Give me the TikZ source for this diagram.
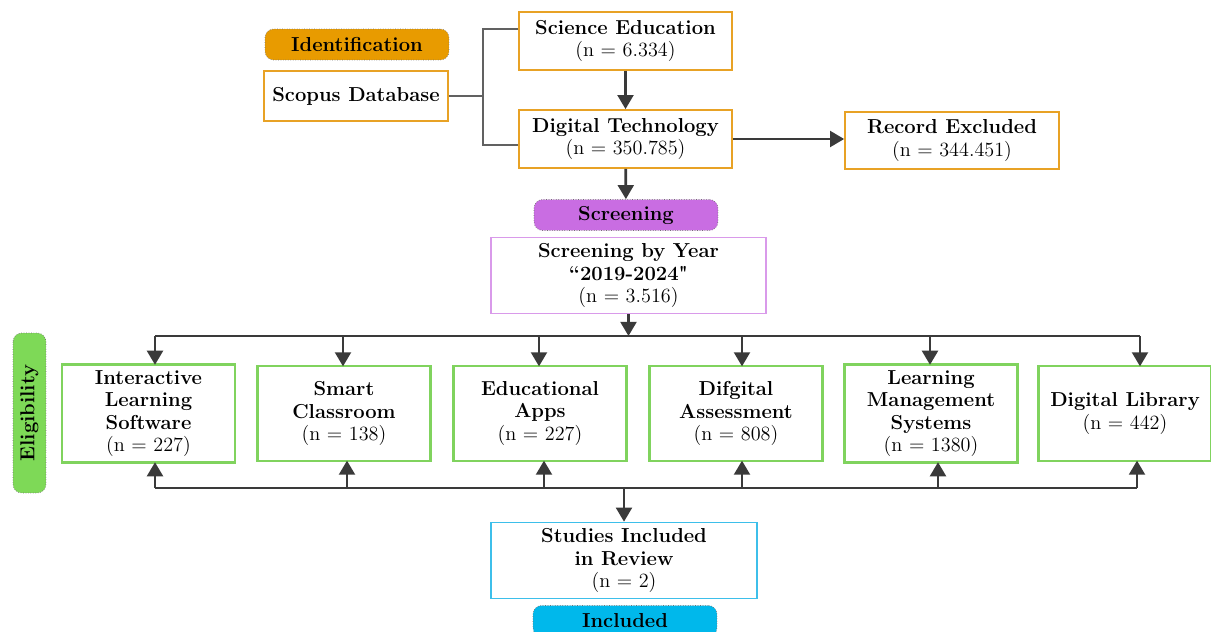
\documentclass[tikz,border=0pt]{standalone}
\usetikzlibrary{arrows.meta}
\definecolor{idorange}{HTML}{E89B00}
\definecolor{boxorange}{HTML}{E8A225}
\definecolor{scrviolet}{HTML}{C96DE2}
\definecolor{boxviolet}{HTML}{D99AEA}
\definecolor{eligreen}{HTML}{7ED957}
\definecolor{boxgreen}{HTML}{80D35E}
\definecolor{inccyan}{HTML}{00B8EB}
\definecolor{boxcyan}{HTML}{3DBFEA}
\definecolor{linegray}{HTML}{3A3A3A}
\begin{document}
\begin{tikzpicture}
[x=0.02cm,y=-0.02cm,
font=\fontsize{11.5}{12.8}\selectfont,
stage/.style={rectangle,rounded corners=5pt,draw=black!55,densely dotted,minimum width=3.68cm,minimum height=0.62cm,font=\fontsize{11.5}{12.8}\selectfont\bfseries},
orangebox/.style={rectangle,draw=boxorange,line width=1pt,fill=white,align=center},
violetbox/.style={rectangle,draw=boxviolet,line width=1pt,fill=white,align=center},
greenbox/.style={rectangle,draw=boxgreen,line width=1.6pt,fill=white,align=center,minimum width=3.46cm,minimum height=1.9cm},
cyanbox/.style={rectangle,draw=boxcyan,line width=1pt,fill=white,align=center},
link/.style={draw=linegray,line width=1.3pt},
bracket/.style={draw=linegray!80,line width=0.8pt},
arrow/.style={link,line width=1.5pt,-{Triangle[width=9pt,length=8pt]}}]
\useasboundingbox (0,0) rectangle (1211,632);

\node[stage,fill=idorange] (ident) at (357,44.5) {Identification};
\node[orangebox,minimum width=3.68cm,minimum height=1cm] (scopus) at (356,96) {\textbf{Scopus Database}};
\node[orangebox,minimum width=4.26cm,minimum height=1.16cm] (scied) at (625.5,41) {\textbf{Science Education}\\(n = 6.334)};
\node[orangebox,minimum width=4.26cm,minimum height=1.16cm] (digtech) at (625.5,139) {\textbf{Digital Technology}\\(n = 350.785)};
\node[orangebox,minimum width=4.28cm,minimum height=1.14cm] (excluded) at (952,140.5) {\textbf{Record Excluded}\\(n = 344.451)};

\node[stage,fill=scrviolet] (screen) at (626,215) {Screening};
\node[violetbox,minimum width=5.5cm,minimum height=1.5cm] (year) at (628.5,275.5) {\textbf{Screening by Year}\\\textbf{``2019-2024\textquotedbl}\\(n = 3.516)};

\node[stage,fill=eligreen,rotate=90,minimum width=3.2cm,minimum height=0.66cm] (elig) at (29.5,413) {Eligibility};
\node[greenbox] (ils) at (148.5,413.5) {\textbf{Interactive}\\\textbf{Learning}\\\textbf{Software}\\(n = 227)};
\node[greenbox] (smart) at (344,413.5) {\textbf{Smart}\\\textbf{Classroom}\\(n = 138)};
\node[greenbox] (apps) at (540,413.5) {\textbf{Educational}\\\textbf{Apps}\\(n = 227)};
\node[greenbox] (assess) at (736,413.5) {\textbf{Difgital}\\\textbf{Assessment}\\(n = 808)};
\node[greenbox] (lms) at (931,413.5) {\textbf{Learning}\\\textbf{Management}\\\textbf{Systems}\\(n = 1380)};
\node[greenbox] (library) at (1125,413.5) {\textbf{Digital Library}\\(n = 442)};

\node[cyanbox,minimum width=5.32cm,minimum height=1.46cm] (studies) at (624,560.5) {\textbf{Studies Included}\\\textbf{in Review}\\(n = 2)};
\node[stage,fill=inccyan] (included) at (625,621) {Included};

\coordinate (fork) at (483,96);
\coordinate (bus1) at (628,336);
\coordinate (bus2) at (632,488);

\draw[bracket] (scopus) -- (fork);
\draw[bracket] ([yshift=0.24cm]scied.west) -| (fork) |- ([yshift=-0.12cm]digtech.west);
\draw[arrow] (scied) -- (digtech);
\draw[arrow] (digtech.east) -- (digtech.east -| excluded.west);
\draw[arrow] (digtech) -- (screen);
\draw[arrow] (year) -- (year.south |- bus1);
\draw[link] ([xshift=0.13cm]ils.north |- bus1) -- ([xshift=0.3cm]library.north |- bus1);
\draw[link] ([xshift=0.13cm]ils.south |- bus2) -- ([xshift=0.24cm]library.south |- bus2);
% arrows sit a little off the box centres
\foreach \b/\dn/\up in {ils/6.5/6.5,smart/-1/3,apps/-1/4,assess/6/6,lms/-1/7,library/15/12}
{
  \draw[arrow] ([xshift=\dn*0.02cm]\b.north |- bus1) -- ([xshift=\dn*0.02cm,yshift=-1pt]\b.north);
  \draw[arrow] ([xshift=\up*0.02cm]\b.south |- bus2) -- ([xshift=\up*0.02cm,yshift=1pt]\b.south);
}
\draw[arrow] (studies.north |- bus2) -- (studies.north);
\end{tikzpicture}
\end{document}
